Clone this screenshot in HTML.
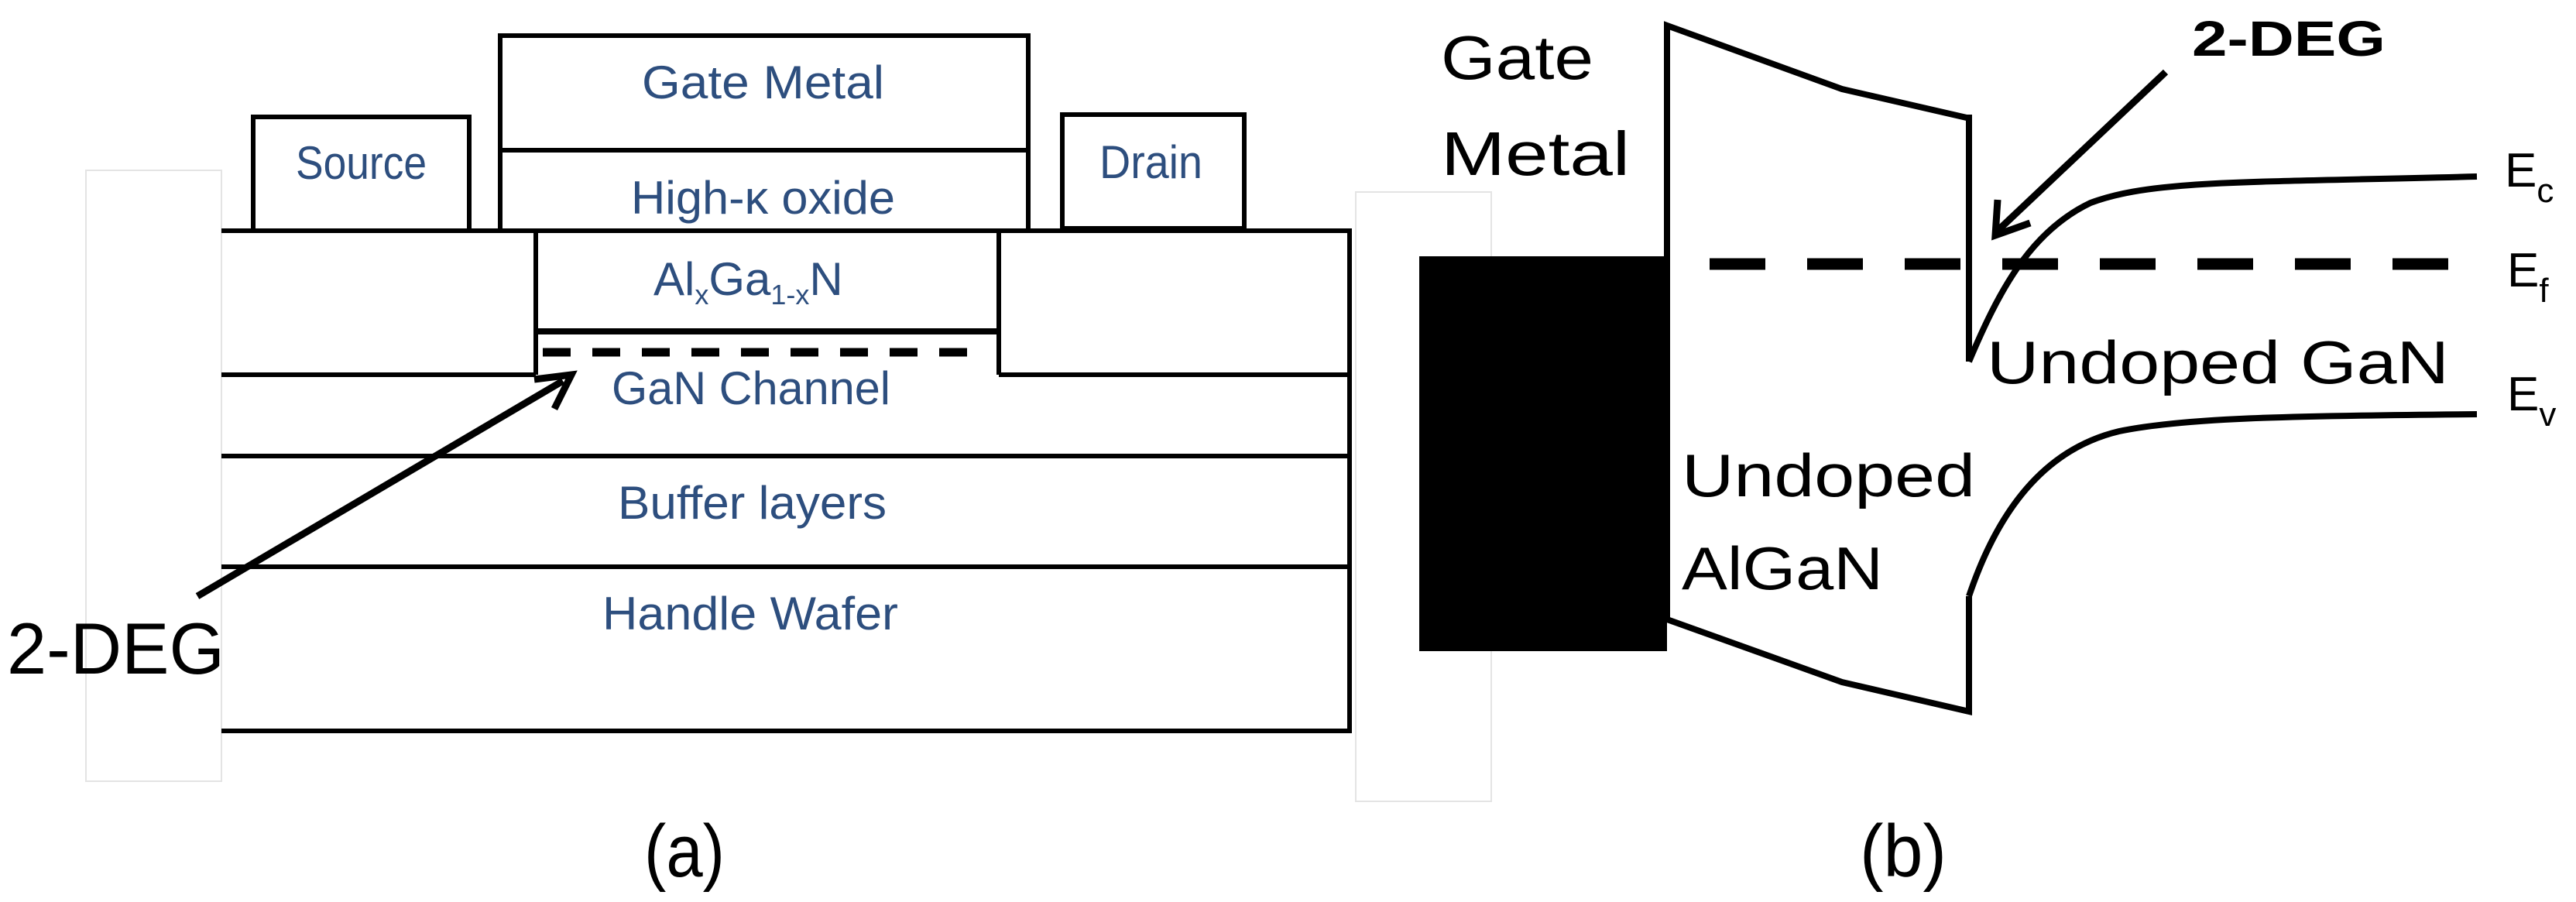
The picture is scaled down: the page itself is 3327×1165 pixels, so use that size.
<!DOCTYPE html>
<html><head><meta charset="utf-8"><style>
html,body{margin:0;padding:0;background:#fff;}
svg{display:block;}
.b{font-family:"Liberation Sans",sans-serif;fill:#2d4e7e;font-size:60px;}
.k{font-family:"Liberation Sans",sans-serif;fill:#000;}
</style></head><body>
<svg width="3327" height="1165" viewBox="0 0 3327 1165" xmlns="http://www.w3.org/2000/svg">
<rect x="0" y="0" width="3327" height="1165" fill="#fff"/>
<rect x="111" y="220" width="175" height="789" fill="none" stroke="#e4e4e4" stroke-width="2"/>
<rect x="1751" y="248" width="175" height="787" fill="none" stroke="#e4e4e4" stroke-width="2"/>
<rect x="112" y="221" width="173" height="787" fill="#fff"/>
<g stroke="#000" stroke-width="6" fill="none">
<rect x="327" y="151" width="279" height="147"/>
<rect x="646" y="46" width="682" height="148"/>
<rect x="646" y="194" width="682" height="104"/>
<rect x="1372" y="148" width="235" height="147"/>
<polyline points="286,298 1743,298 1743,944 286,944"/>
<line x1="692" y1="298" x2="692" y2="484"/>
<line x1="1290" y1="298" x2="1290" y2="484"/>
<line x1="692" y1="428" x2="1290" y2="428" stroke-width="8"/>
<line x1="286" y1="484" x2="692" y2="484"/>
<line x1="1290" y1="484" x2="1743" y2="484"/>
<line x1="286" y1="589" x2="1743" y2="589"/>
<line x1="286" y1="732" x2="1743" y2="732"/>
<line x1="701" y1="455" x2="1255" y2="455" stroke-width="11" stroke-dasharray="36,28"/>
<line x1="255" y1="770" x2="727" y2="492" stroke-width="9"/>
<polyline points="690,490 738,484 716,528" stroke-width="9"/>
</g>
<text class="b" x="829" y="127" textLength="313" lengthAdjust="spacingAndGlyphs">Gate Metal</text>
<text class="b" x="382" y="231" textLength="169" lengthAdjust="spacingAndGlyphs">Source</text>
<text class="b" x="815" y="276" textLength="341" lengthAdjust="spacingAndGlyphs">High-κ oxide</text>
<text class="b" x="1420" y="230" textLength="133" lengthAdjust="spacingAndGlyphs">Drain</text>
<text class="b" x="844" y="381">Al<tspan font-size="36" dy="12">x</tspan><tspan dy="-12">Ga</tspan><tspan font-size="36" dy="12">1-x</tspan><tspan dy="-12">N</tspan></text>
<text class="b" x="790" y="522" textLength="360" lengthAdjust="spacingAndGlyphs">GaN Channel</text>
<text class="b" x="798" y="670" textLength="347" lengthAdjust="spacingAndGlyphs">Buffer layers</text>
<text class="b" x="778" y="813" textLength="382" lengthAdjust="spacingAndGlyphs">Handle Wafer</text>
<text class="k" x="9" y="870" font-size="94" textLength="281" lengthAdjust="spacingAndGlyphs">2-DEG</text>
<text class="k" x="832" y="1132" font-size="96" textLength="104" lengthAdjust="spacingAndGlyphs">(a)</text>

<rect x="1833" y="331" width="320" height="510" fill="#000"/>
<g stroke="#000" stroke-width="8" fill="none">
<polyline points="2153,800 2153,33 2379,115 2540,152 2543,152 2543,467"/>
<path d="M2543,467 C2580,380 2620,300 2700,262 C2780,232 2900,236 3199,228"/>
<polyline points="2153,800 2379,881 2543,919 2543,770"/>
<path d="M2543,770 C2580,660 2640,580 2737,557 C2820,540 2950,537 3199,535"/>
<line x1="1833" y1="340" x2="2153" y2="340"/>
<line x1="2208" y1="341" x2="3163" y2="341" stroke-width="15" stroke-dasharray="72,54"/>
<line x1="2797" y1="93" x2="2580" y2="298" stroke-width="9"/>
<polyline points="2580,258 2577,304 2622,288" stroke-width="9"/>
</g>
<text class="k" x="1861" y="102" font-size="80" textLength="197" lengthAdjust="spacingAndGlyphs">Gate</text>
<text class="k" x="1861" y="226" font-size="80" textLength="244" lengthAdjust="spacingAndGlyphs">Metal</text>
<text class="k" x="2831" y="72" font-size="64" font-weight="bold" textLength="250" lengthAdjust="spacingAndGlyphs">2-DEG</text>
<text class="k" x="2566" y="495" font-size="78" textLength="597" lengthAdjust="spacingAndGlyphs">Undoped GaN</text>
<text class="k" x="2172" y="641" font-size="78" textLength="379" lengthAdjust="spacingAndGlyphs">Undoped</text>
<text class="k" x="2172" y="761" font-size="78" textLength="260" lengthAdjust="spacingAndGlyphs">AlGaN</text>
<text class="k" x="3235" y="241" font-size="62">E<tspan font-size="44" dy="20">c</tspan></text>
<text class="k" x="3238" y="370" font-size="62">E<tspan font-size="44" dy="20">f</tspan></text>
<text class="k" x="3238" y="530" font-size="62">E<tspan font-size="44" dy="20">v</tspan></text>
<text class="k" x="2402" y="1132" font-size="96" textLength="112" lengthAdjust="spacingAndGlyphs">(b)</text>
</svg>
</body></html>
